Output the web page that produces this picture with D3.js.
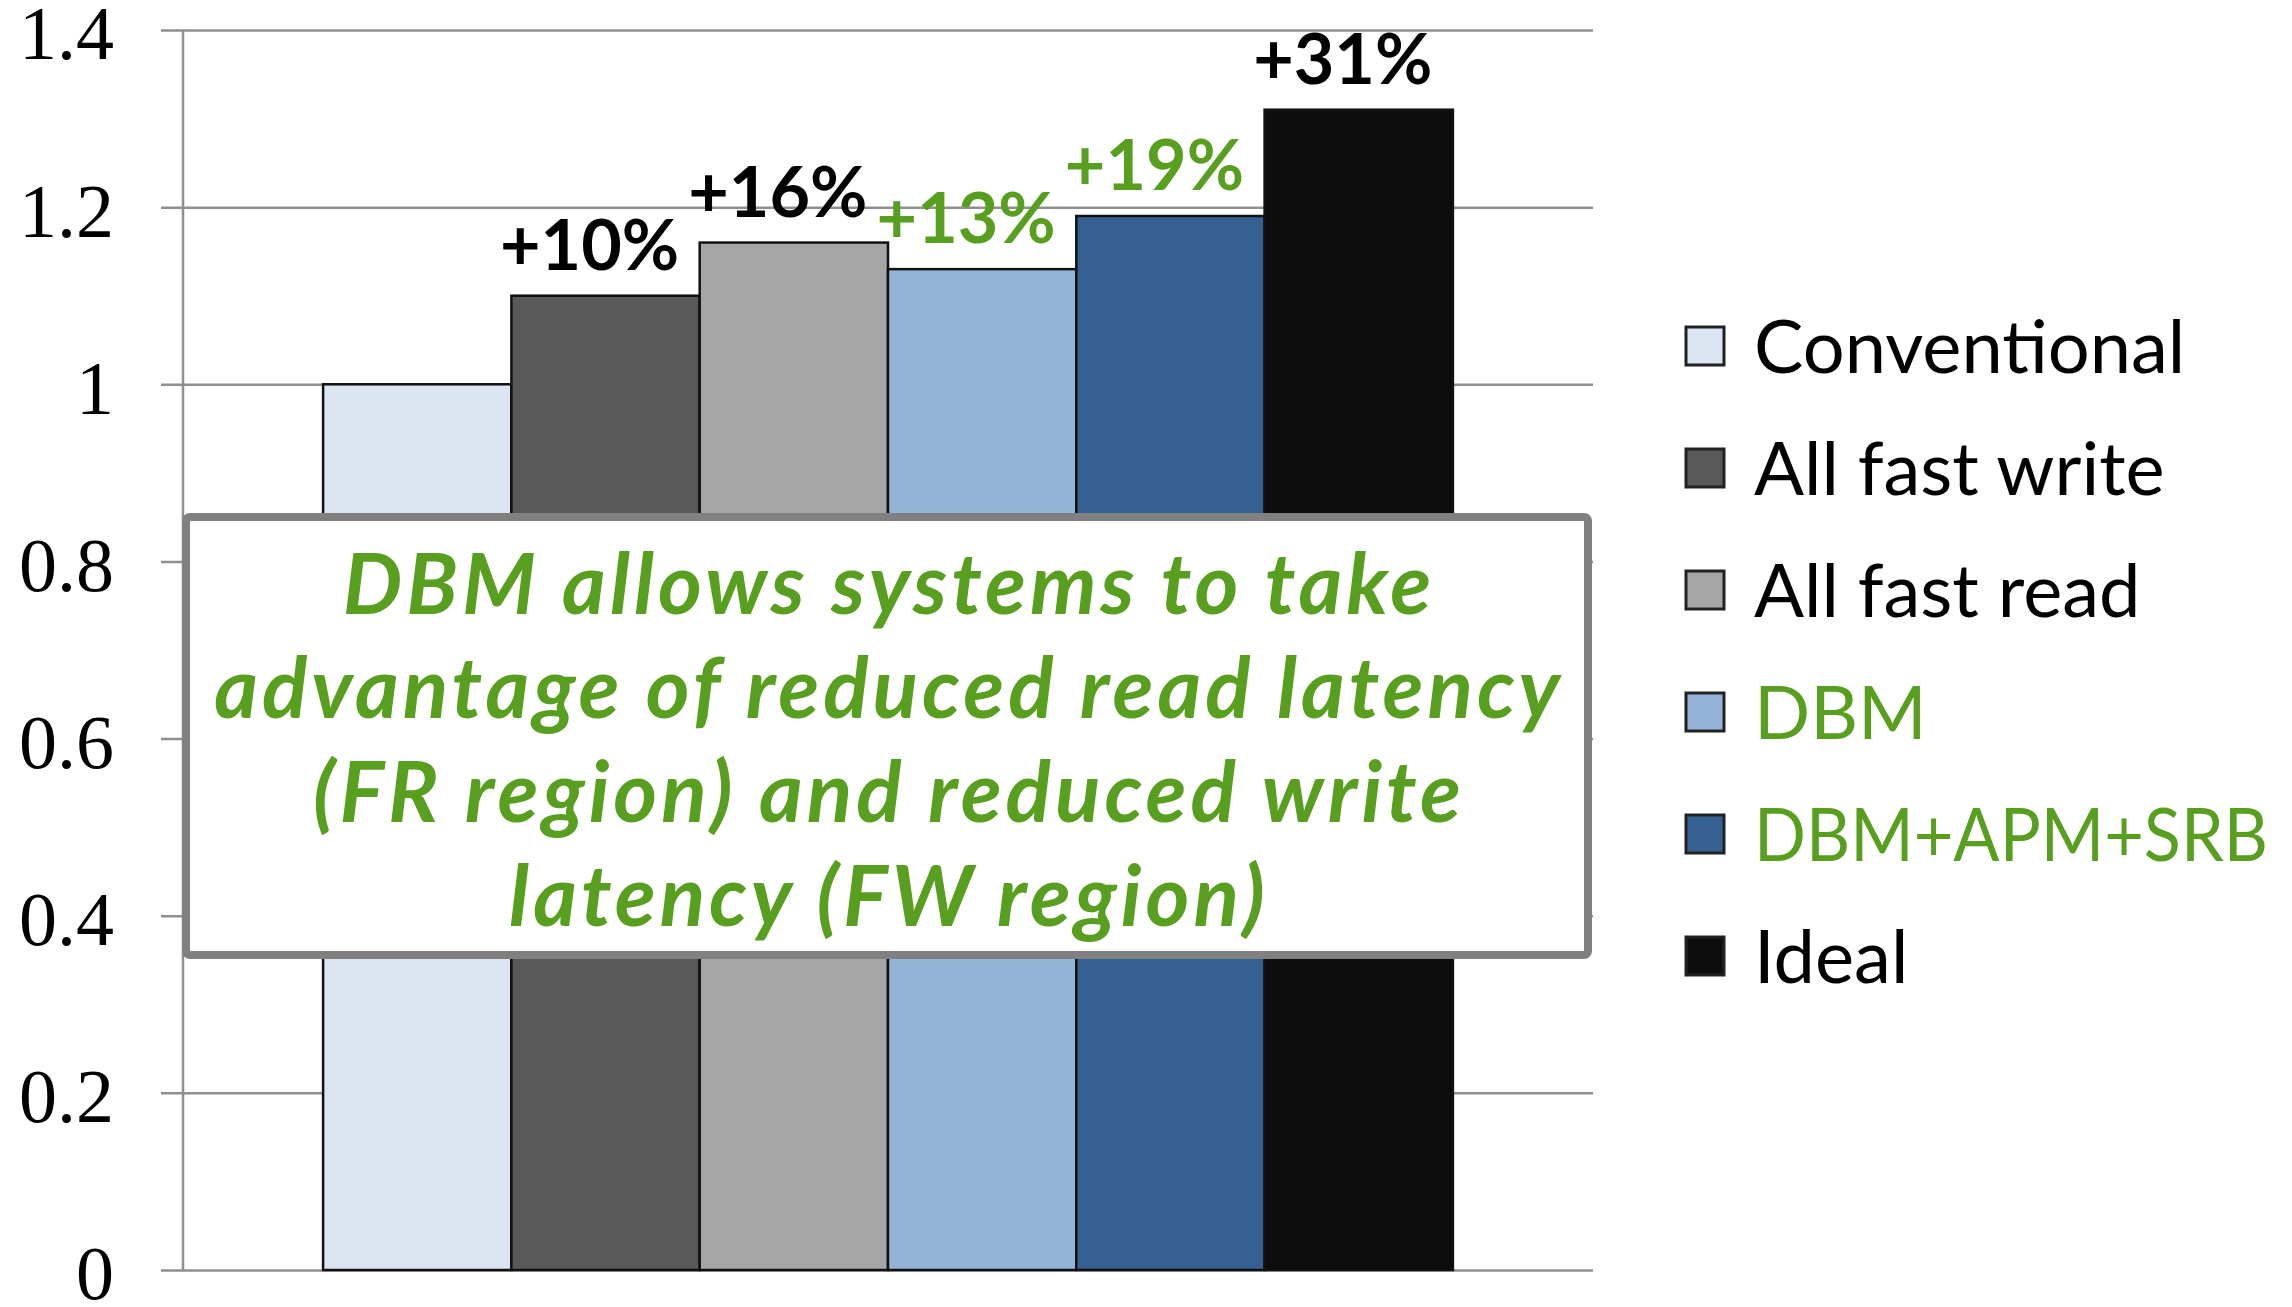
<!DOCTYPE html>
<html>
<head>
<meta charset="utf-8">
<script src="https://cdn.jsdelivr.net/npm/d3@7/dist/d3.min.js"></script>
<style>
  body { margin: 0; background: #fff; }
</style>
</head>
<body>
<svg id="chart"></svg>
<script>
// data
const configs = ["Conventional", "All fast write", "All fast read", "DBM", "DBM+APM+SRB", "Ideal"];
const speedup = [1.0, 1.10, 1.16, 1.13, 1.19, 1.31];
const gainLabels = ["", "+10%", "+16%", "+13%", "+19%", "+31%"];
const barColors = ["#dce6f2", "#595959", "#a6a6a6", "#95b3d7", "#376092", "#0d0d0d"];
const highlighted = ["DBM", "DBM+APM+SRB"];
const yTicks = [0, 0.2, 0.4, 0.6, 0.8, 1, 1.2, 1.4];
const noteLines = [
  "DBM allows systems to take",
  "advantage of reduced read latency",
  "(FR region) and reduced write",
  "latency (FW region)"
];

const green = "#589f20";
const width = 2292, height = 1307;

const svg = d3.select("#chart")
    .attr("width", width)
    .attr("height", height)
    .style("font-family", "Lato, 'Open Sans', sans-serif");

const plotLeft = 183, plotRight = 1593, gridLeft = 161;

const y = d3.scaleLinear().domain([0, 1.4]).range([1270, 30]);
const x = d3.scaleBand().domain(configs).range([plotLeft, plotRight])
    .paddingInner(0).paddingOuter(0.744);

// gridlines + tick labels
const yAxis = svg.append("g")
    .attr("transform", `translate(${gridLeft},0)`)
    .call(d3.axisLeft(y)
        .tickValues(yTicks)
        .tickSize(-(plotRight - gridLeft))
        .tickPadding(47)
        .tickFormat(d => String(d)));
yAxis.select(".domain").remove();
yAxis.selectAll(".tick line").attr("stroke", "#8f8f8f").attr("stroke-width", 2.5);
yAxis.selectAll(".tick text")
    .attr("font-family", "'Liberation Serif', 'Times New Roman', serif")
    .attr("font-size", 76)
    .attr("fill", "#000")
    .attr("dy", "0.38em");

// vertical axis line
svg.append("line")
    .attr("x1", plotLeft).attr("x2", plotLeft)
    .attr("y1", y(1.4)).attr("y2", y(0))
    .attr("stroke", "#8f8f8f").attr("stroke-width", 2.5);

// bars
svg.append("g").selectAll("rect")
    .data(configs)
    .join("rect")
    .attr("x", d => x(d))
    .attr("y", (d, i) => y(speedup[i]))
    .attr("width", x.bandwidth())
    .attr("height", (d, i) => y(0) - y(speedup[i]))
    .attr("fill", (d, i) => barColors[i])
    .attr("stroke", "#111")
    .attr("stroke-width", 2.5);

// gain labels over bars
svg.append("g").selectAll("text")
    .data(configs)
    .join("text")
    .attr("x", d => x(d) + x.bandwidth() / 2 - 16)
    .attr("y", (d, i) => y(speedup[i]) - 26)
    .attr("text-anchor", "middle")
    .attr("font-size", 70)
    .attr("font-weight", 700)
    .attr("fill", d => highlighted.includes(d) ? green : "#000")
    .text((d, i) => gainLabels[i]);

// legend
const legendY = d3.scalePoint().domain(configs).range([346, 956]);
const legend = svg.append("g").selectAll("g")
    .data(configs)
    .join("g")
    .attr("transform", d => `translate(1686,${legendY(d)})`);
legend.append("rect")
    .attr("x", 0).attr("y", -19)
    .attr("width", 38).attr("height", 38)
    .attr("fill", (d, i) => barColors[i])
    .attr("stroke", "#222").attr("stroke-width", 3);
legend.append("text")
    .attr("x", 68).attr("y", 27)
    .attr("font-size", 74)
    .attr("fill", d => highlighted.includes(d) ? green : "#000")
    .text(d => d)
    .each(function() {
        // squeeze the long entry so it stays inside the page
        if (this.getComputedTextLength() > 514) {
            d3.select(this).attr("textLength", 514).attr("lengthAdjust", "spacingAndGlyphs");
        }
    });

// annotation box
const box = svg.append("g");
box.append("rect")
    .attr("x", 186).attr("y", 517)
    .attr("width", 1402).attr("height", 438)
    .attr("rx", 4)
    .attr("fill", "#fff")
    .attr("stroke", "#808080").attr("stroke-width", 8);
box.selectAll("text")
    .data(noteLines)
    .join("text")
    .attr("x", 889)
    .attr("y", (d, i) => 614 + i * 104)
    .attr("text-anchor", "middle")
    .attr("font-size", 84)
    .attr("font-weight", 700)
    .attr("font-style", "italic")
    .attr("letter-spacing", 4)
    .attr("fill", green)
    .text(d => d);
</script>
</body>
</html>
